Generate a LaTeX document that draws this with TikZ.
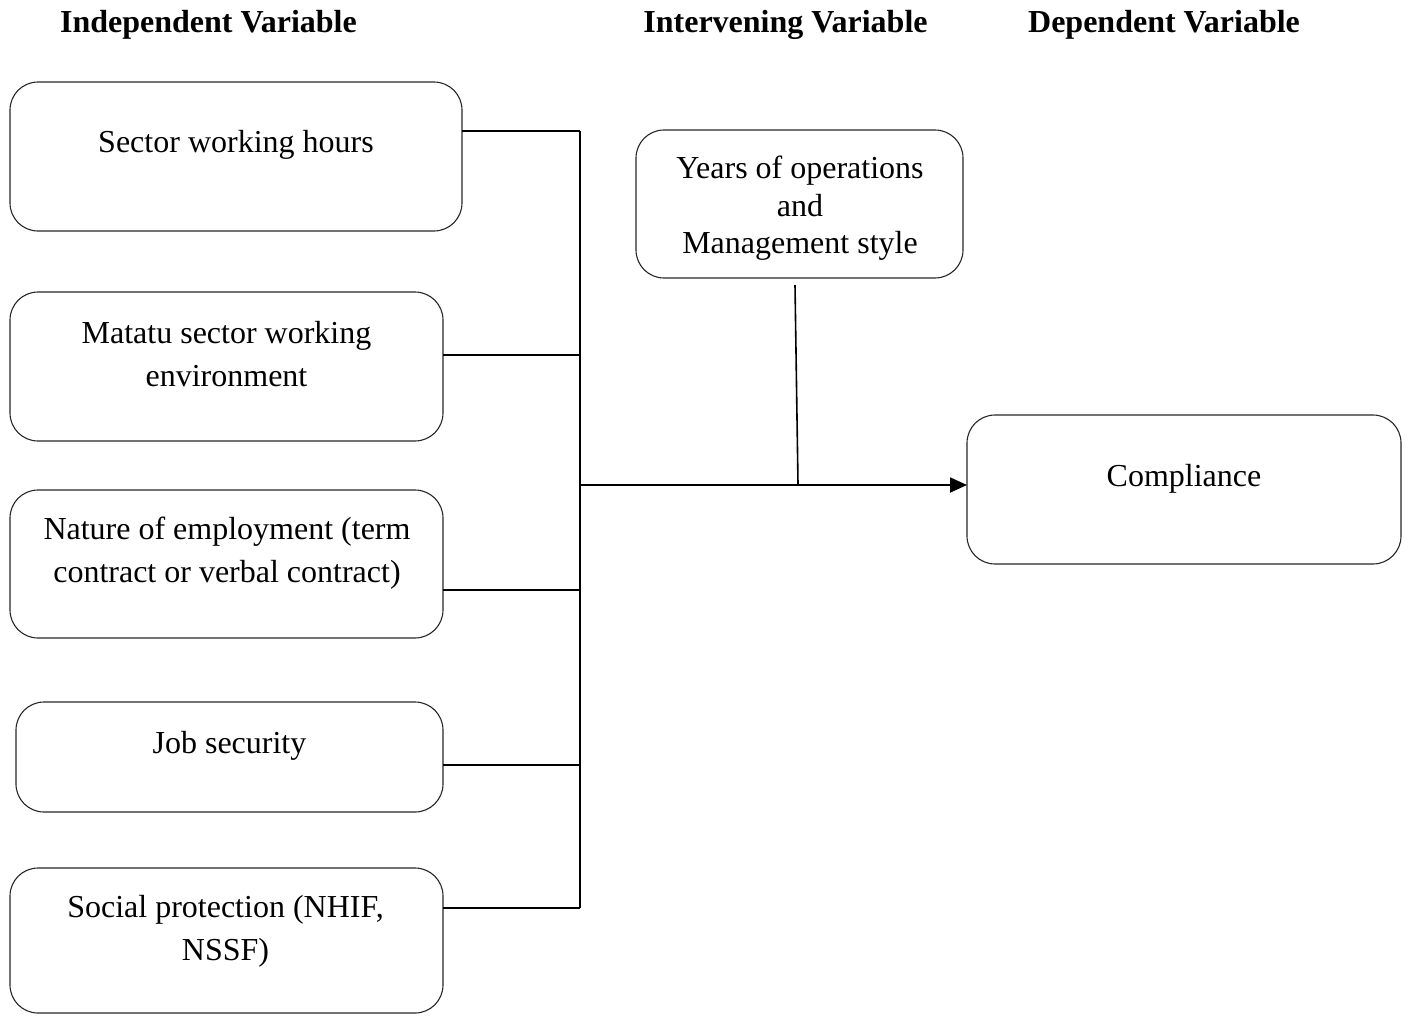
\documentclass[tikz,border=0pt]{standalone}
\usepackage{fontspec}
\setmainfont{Liberation Serif}
\usetikzlibrary{arrows.meta}
\begin{document}
\begin{tikzpicture}[x=1pt,y=-1pt,
  box/.style={draw=black!85, line width=1.1pt, rounded corners=28pt, rectangle, inner sep=0pt, outer sep=0pt},
  txt/.style={align=center, inner sep=0pt, font=\fontsize{32}{43}\selectfont},
  head/.style={inner sep=0pt, font=\fontsize{32}{38}\selectfont\bfseries},
  conn/.style={line width=1.8pt}]
\useasboundingbox (0,0) rectangle (1408,1015);
% headers
\node[head] (h1) at (208.5,25) {Independent Variable};
\node[head] (h2) at (785.5,25) {Intervening Variable};
\node[head] (h3) at (1164,25) {Dependent Variable};
% boxes
\node[box, minimum width=452pt, minimum height=149pt] (b1) at (236,156.5) {};
\node[box, minimum width=433pt, minimum height=149pt] (b2) at (226.5,366.5) {};
\node[box, minimum width=433pt, minimum height=148pt] (b3) at (226.5,564) {};
\node[box, minimum width=427pt, minimum height=110pt] (b4) at (229.5,757) {};
\node[box, minimum width=433pt, minimum height=145pt] (b5) at (226.5,940.5) {};
\node[box, minimum width=327pt, minimum height=148pt] (int) at (799.5,204) {};
\node[box, minimum width=434pt, minimum height=149pt] (comp) at (1184,489.5) {};
% texts
\node[txt] (t1) at (236,145) {Sector working hours};
\node[txt] (t2) at (226.5,354.5) {Matatu sector working\\environment};
\node[txt] (t3) at (227,553) {Nature of employment (term\\contract or verbal contract)};
\node[txt] (t4) at (229.5,746) {Job security};
\node[txt] (t5) at (225.5,931) {Social protection (NHIF,\\NSSF)};
\node[txt, font=\fontsize{32}{37.5}\selectfont] (ti) at (800,208.5) {Years of operations\\and\\Management style};
\node[txt] (tc) at (1184,479) {Compliance};
% junctions
\coordinate (j1) at (580,131);
\coordinate (j2) at (580,355);
\coordinate (j3) at (580,590);
\coordinate (j4) at (580,765);
\coordinate (j5) at (580,908);
\coordinate (jm) at (580,485);
\coordinate (it) at (795,285);
\coordinate (ib) at (798,484);
% connectors
\draw[conn] (b1.east |- j1) -- (j1);
\draw[conn] (b2.east |- j2) -- (j2);
\draw[conn] (b3.east |- j3) -- (j3);
\draw[conn] (b4.east |- j4) -- (j4);
\draw[conn] (b5.east |- j5) -- (j5);
\draw[conn] (j1) -- (j5);
\draw[conn, -{Triangle[length=17pt,width=15pt]}] (jm) -- (jm -| comp.west);
\draw[line width=1.6pt] (it) -- (ib);
\end{tikzpicture}
\end{document}
